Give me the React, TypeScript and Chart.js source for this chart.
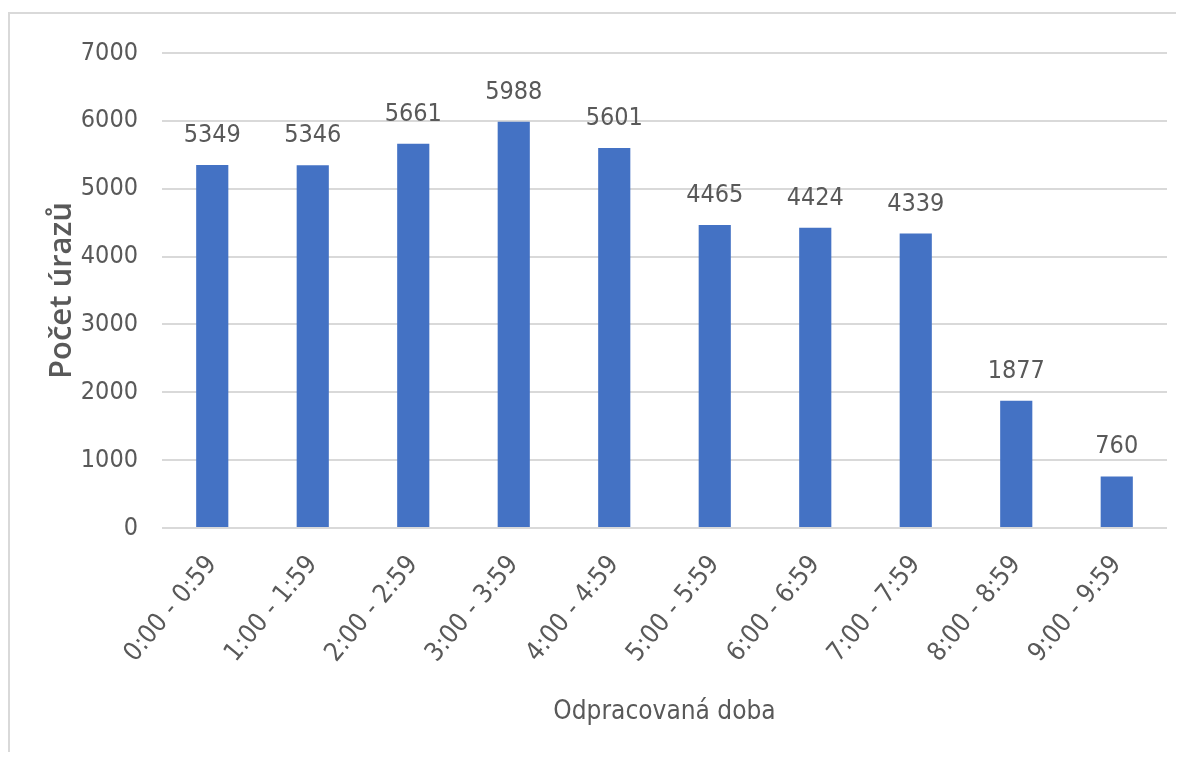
import React, { useEffect, useRef } from "react";
import { Chart, registerables } from "chart.js";

Chart.register(...registerables);

const categories = [
  "0:00 - 0:59",
  "1:00 - 1:59",
  "2:00 - 2:59",
  "3:00 - 3:59",
  "4:00 - 4:59",
  "5:00 - 5:59",
  "6:00 - 6:59",
  "7:00 - 7:59",
  "8:00 - 8:59",
  "9:00 - 9:59",
];
const injuries = [5349, 5346, 5661, 5988, 5601, 4465, 4424, 4339, 1877, 760];
const yTicks = [0, 1000, 2000, 3000, 4000, 5000, 6000, 7000];
const xTitle = "Odpracovaná doba";
const yTitle = "Počet úrazů";

const FONT = "'Liberation Sans Narrow', 'DejaVu Sans Condensed', 'Open Sans', sans-serif";
const TEXT = "#595959";
const GRID = "#d9d9d9";
const BAR = "#4472C4";

const valueLabels = {
  id: "valueLabels",
  afterDatasetsDraw(chart: any) {
    const ctx = chart.ctx;
    const meta = chart.getDatasetMeta(0);
    ctx.save();
    ctx.font = `25px ${FONT}`;
    ctx.fillStyle = TEXT;
    ctx.textAlign = "center";
    ctx.textBaseline = "alphabetic";
    meta.data.forEach((el: any, i: number) => {
      ctx.fillText(String(injuries[i]), el.x, el.y - 23);
    });
    ctx.restore();
  },
};

export default function App() {
  const ref = useRef<HTMLCanvasElement | null>(null);
  useEffect(() => {
    if (!ref.current) return;
    const chart = new Chart(ref.current, {
      type: "bar",
      data: {
        labels: categories,
        datasets: [
          {
            data: injuries,
            backgroundColor: BAR,
            borderWidth: 0,
            categoryPercentage: 1,
            barPercentage: 0.32,
          },
        ],
      },
      options: {
        animation: false,
        responsive: false,
        maintainAspectRatio: false,
        layout: { padding: { top: 33, right: 9, bottom: 20, left: 0 } },
        plugins: { legend: { display: false }, tooltip: { enabled: false } },
        scales: {
          x: {
            grid: { display: false, drawTicks: false },
            border: { display: false },
            ticks: {
              color: TEXT,
              font: { family: FONT, size: 26 },
              maxRotation: 50,
              minRotation: 50,
              padding: 22,
            },
            title: {
              display: true,
              text: xTitle,
              color: TEXT,
              font: { family: FONT, size: 26 },
              padding: { top: 4, bottom: 4 },
            },
            afterFit(scale: any) {
              scale.height = 204;
            },
          },
          y: {
            min: 0,
            max: 7000,
            afterBuildTicks(scale: any) {
              scale.ticks = yTicks.map((v) => ({ value: v }));
            },
            grid: { color: GRID, lineWidth: 2, drawTicks: false },
            border: { display: false },
            ticks: {
              color: TEXT,
              font: { family: FONT, size: 25 },
              padding: 24,
              callback: (v: any) => String(v),
            },
            title: {
              display: true,
              text: yTitle,
              color: TEXT,
              font: { family: "'Open Sans', sans-serif", size: 31, weight: "600" },
              padding: { top: 34, bottom: 0 },
            },
            afterFit(scale: any) {
              scale.width = 152;
            },
          },
        },
      },
      plugins: [valueLabels],
    });
    return () => chart.destroy();
  }, []);

  return (
    <div style={{ paddingTop: 4 }}>
      <div
        style={{
          borderTop: "2px solid #d9d9d9",
          borderLeft: "2px solid #d9d9d9",
          width: 1166,
          height: 738,
        }}
      >
        <canvas ref={ref} width={1166} height={738} style={{ display: "block" }} />
      </div>
    </div>
  );
}
